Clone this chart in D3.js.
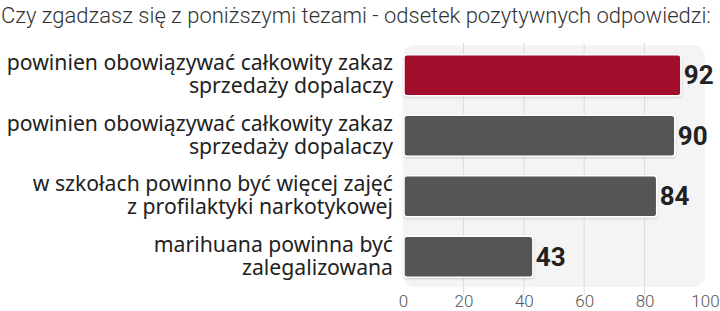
<!DOCTYPE html>
<html><head><meta charset="utf-8">
<script src="https://cdn.jsdelivr.net/npm/d3@7"></script>
<style>body{margin:0;background:#fff}svg{display:block}</style>
</head><body>
<script>
const title = "Czy zgadzasz się z poniższymi tezami - odsetek pozytywnych odpowiedzi:";
const categories = [
  ["powinien obowiązywać całkowity zakaz", "sprzedaży dopalaczy"],
  ["powinien obowiązywać całkowity zakaz", "sprzedaży dopalaczy"],
  ["w szkołach powinno być więcej zajęć", "z profilaktyki narkotykowej"],
  ["marihuana powinna być", "zalegalizowana"]
];
const values = [92, 90, 84, 43];
const highlight = [true, false, false, false];
const ticks = [0, 20, 40, 60, 80, 100];

const W = 720, H = 311;
const svg = d3.select("body").append("svg").attr("width", W).attr("height", H);

const x = d3.scaleLinear().domain([0, 100]).range([403, 705]);
const y = d3.scaleBand().domain(d3.range(values.length)).range([45, 287]).paddingInner(0.32).paddingOuter(0.16);

const defs = svg.append("defs");
const f = defs.append("filter").attr("id", "sh").attr("x", "-5%").attr("y", "-20%").attr("width", "110%").attr("height", "150%");
f.append("feDropShadow").attr("dx", 0).attr("dy", 1).attr("stdDeviation", 1.2).attr("flood-color", "#000").attr("flood-opacity", 0.18);

// title
svg.append("text").attr("x", 1).attr("y", 23)
  .attr("font-family", "Roboto").attr("font-weight", 300).attr("font-size", 22)
  .attr("fill", "#333").attr("textLength", 710).attr("lengthAdjust", "spacingAndGlyphs")
  .text(title);

// panel
svg.append("rect").attr("x", x(0)).attr("y", 45).attr("width", x(100) - x(0)).attr("height", 242)
  .attr("rx", 12).attr("fill", "#f4f4f4");

// grid
svg.append("g").selectAll("line").data(ticks.filter(t => t > 0 && t < 100)).join("line")
  .attr("x1", d => x(d)).attr("x2", d => x(d)).attr("y1", 43).attr("y2", 295)
  .attr("stroke", "#dcdcdc").attr("stroke-width", 1);

// axis
const axis = svg.append("g").attr("transform", "translate(0,287)")
  .call(d3.axisBottom(x).tickValues(ticks).tickSize(0).tickPadding(6));
axis.select(".domain").remove();
axis.selectAll("text").attr("font-family", "Roboto").attr("font-weight", 300)
  .attr("font-size", 17).attr("fill", "#555").attr("dy", "0.85em");

// bars
svg.append("g").selectAll("rect").data(values).join("rect")
  .attr("x", x(0) + 1).attr("y", (d, i) => y(i))
  .attr("width", d => x(d) - x(0) - 1).attr("height", y.bandwidth())
  .attr("rx", 3).attr("fill", (d, i) => highlight[i] ? "#a10e2b" : "#555555")
  .attr("stroke", "#fff").attr("stroke-width", 1.5).attr("filter", "url(#sh)");

// values
svg.append("g").selectAll("text").data(values).join("text")
  .attr("x", d => x(d) + 3).attr("y", (d, i) => y(i) + y.bandwidth() / 2 + 9)
  .attr("font-family", "Roboto").attr("font-weight", 700).attr("font-size", 26)
  .attr("fill", "#222").text(d => d);

// category labels
const lab = svg.append("g").selectAll("text").data(categories).join("text")
  .attr("text-anchor", "end").attr("font-family", "Noto Sans").attr("font-size", 21.2)
  .attr("fill", "#222");
lab.each(function(d, i) {
  const t = d3.select(this);
  const cy = y(i) + y.bandwidth() / 2;
  d.forEach((line, j) => {
    t.append("tspan").attr("x", 393).attr("y", cy - 5 + j * 23).text(line);
  });
});
</script>
</body></html>
